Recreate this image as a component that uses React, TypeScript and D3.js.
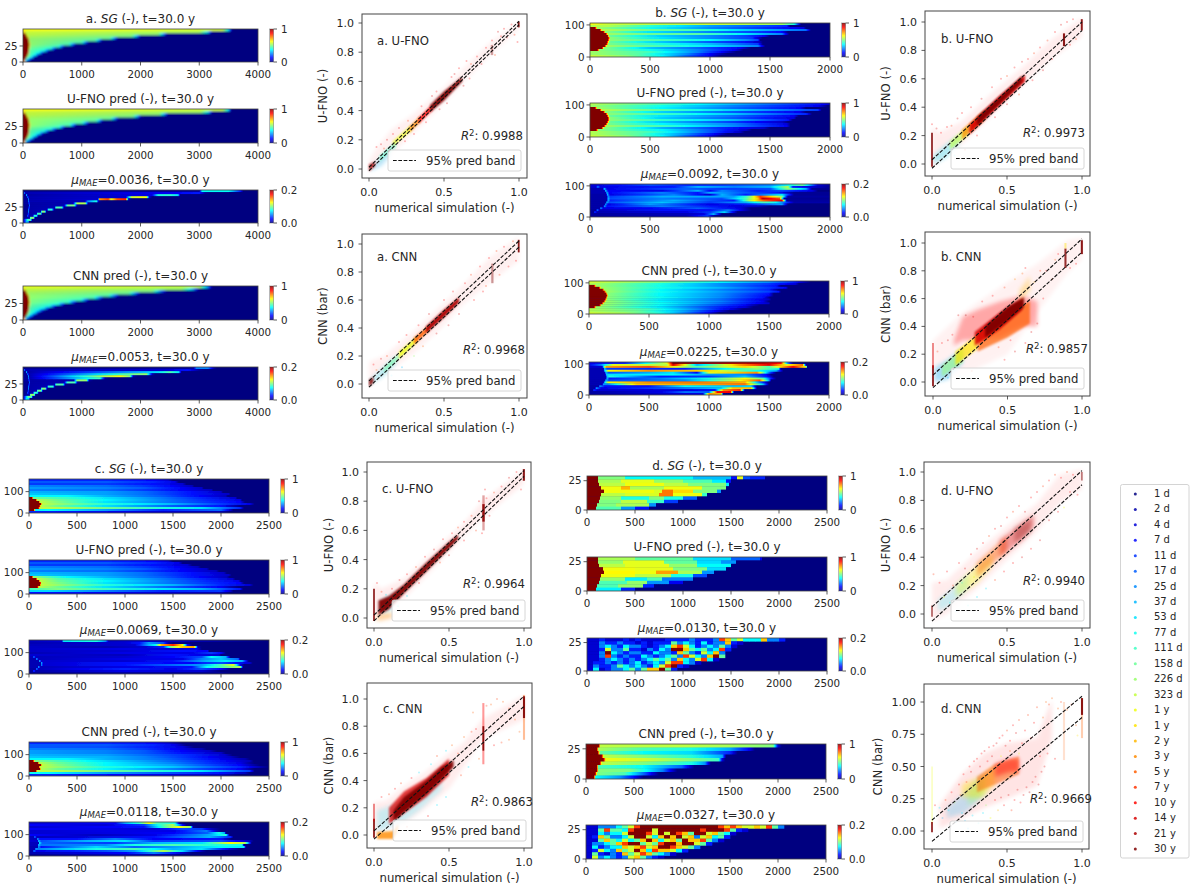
import React from 'react';
import * as d3 from 'd3';

// ---------- legend ----------
const timeLabels = ['1 d','2 d','4 d','7 d','11 d','17 d','25 d','37 d','53 d','77 d','111 d','158 d','226 d','323 d','1 y','1 y','2 y','3 y','5 y','7 y','10 y','14 y','21 y','30 y'];

// ---------- heat-map rows: flat [x, pct, x, pct, ...], top row first ----------
const aSgRows = [
  [0,62,3400,58,3500,34,3560,0],
  [0,57,15,85,30,57,3000,54,3150,34,3220,0],
  [0,100,40,100,60,57,2300,52,2400,26,2450,0],
  [0,100,60,100,80,55,1850,50,1950,26,2000,0],
  [0,100,80,100,100,53,1480,48,1560,26,1620,0],
  [0,100,90,100,110,52,1230,47,1300,26,1350,0],
  [0,100,95,100,115,52,1000,45,1060,26,1120,0],
  [0,100,100,100,120,52,780,45,850,24,900,0],
  [0,100,98,100,118,50,600,43,660,24,710,0],
  [0,100,95,100,115,48,470,41,520,22,570,0],
  [0,100,90,100,110,47,360,40,410,22,450,0],
  [0,100,85,100,105,47,280,38,320,17,360,0],
  [0,100,75,100,95,47,215,38,250,15,285,0],
  [0,100,60,100,80,47,150,39,190,13,215,0],
  [0,100,45,100,60,43,110,26,140,9,165,0],
  [0,100,25,70,50,26,75,9,105,0],
];
const aUfnoRows = [
  [0,62,3400,57,3500,34,3540,0],
  [0,57,15,85,30,57,3020,53,3160,34,3230,0],
  [0,100,40,100,60,57,2320,52,2420,26,2470,0],
  [0,100,60,100,80,55,1870,50,1960,26,2010,0],
  [0,100,80,100,100,53,1490,48,1570,26,1630,0],
  [0,100,90,100,110,52,1240,47,1310,26,1360,0],
  [0,100,95,100,115,52,1000,45,1070,26,1130,0],
  [0,100,100,100,120,52,790,45,860,24,910,0],
  [0,100,98,100,118,50,610,43,670,24,720,0],
  [0,100,95,100,115,48,470,41,530,22,580,0],
  [0,100,90,100,110,47,360,40,410,22,450,0],
  [0,100,85,100,105,47,280,38,320,17,360,0],
  [0,100,75,100,95,47,215,38,250,15,285,0],
  [0,100,60,100,80,47,150,39,190,13,215,0],
  [0,100,45,100,60,43,110,26,140,9,165,0],
  [0,100,25,70,50,26,75,9,105,0],
];
const aCnnRows = [
  [0,60,3000,56,3150,26,3220,0],
  [0,55,15,80,30,57,2700,52,2900,30,3000,0],
  [0,100,40,100,60,55,2200,50,2350,24,2450,0],
  [0,100,60,100,80,53,1800,48,1920,24,2000,0],
  [0,100,80,100,100,52,1450,46,1560,24,1640,0],
  [0,100,90,100,110,52,1200,45,1300,24,1370,0],
  [0,100,95,100,115,50,980,43,1060,24,1130,0],
  [0,100,100,100,120,50,770,43,850,22,920,0],
  [0,100,98,100,118,48,590,41,660,22,720,0],
  [0,100,95,100,115,47,460,40,520,19,580,0],
  [0,100,90,100,110,46,350,38,410,19,460,0],
  [0,100,85,100,105,46,270,36,320,16,370,0],
  [0,100,75,100,95,46,210,36,250,13,295,0],
  [0,100,60,100,80,45,145,34,190,10,225,0],
  [0,100,45,100,60,41,105,24,140,7,170,0],
  [0,100,25,68,50,24,75,7,110,0],
];
const aMaeURows = [
  [0,2,3000,3,3050,38,3500,38,3700,15,3750,0],
  [0,3,15,3,25,22,45,5,2600,12,3000,15,3100,2,3200,0],
  [0,3,50,3,60,30,80,4,2200,10,2300,40,2500,42,2640,35,2680,0],
  [0,3,70,3,80,30,100,5,1750,8,1850,58,2100,62,2150,8,2200,0],
  [0,3,80,3,90,30,110,5,1280,8,1300,72,1450,82,1500,60,1600,80,1750,85,1800,5,1850,0],
  [0,3,85,3,95,26,115,5,1050,5,1100,25,1250,40,1290,3,1350,0],
  [0,3,90,3,100,30,120,4,850,5,920,55,1060,55,1110,3,1200,0],
  [0,2,95,2,105,30,125,4,700,5,760,48,870,50,920,3,1000,0],
  [0,2,90,2,100,30,120,4,540,5,560,45,660,45,700,2,760,0],
  [0,2,85,2,95,26,115,4,410,5,430,40,490,40,530,2,570,0],
  [0,2,80,2,90,30,110,4,300,5,320,50,370,50,400,2,440,0],
  [0,2,75,2,85,26,105,4,230,5,250,45,300,45,330,0],
  [0,2,70,2,80,26,100,4,170,5,190,40,230,40,260,0],
  [0,2,110,5,130,50,180,50,205,0],
  [0,2,90,45,130,45,160,0],
  [0,2,60,30,90,30,110,0],
];
const aMaeCRows = [
  [0,2,2900,3,2950,25,3150,25,3250,4,3300,0],
  [0,3,15,3,25,22,45,5,2400,8,2800,14,3000,2,3100,0],
  [0,3,50,3,60,30,80,4,2300,35,2500,45,2650,35,2700,0],
  [0,3,70,3,80,30,100,5,1850,48,2100,52,2200,6,2250,0],
  [0,3,80,3,90,30,110,5,1400,55,1650,62,1820,50,1880,4,1950,0],
  [0,3,85,3,95,26,115,5,1100,38,1300,44,1400,3,1450,0],
  [0,3,90,3,100,30,120,4,860,5,920,52,1080,52,1130,3,1200,0],
  [0,2,95,2,105,30,125,4,700,5,760,45,880,45,930,3,1000,0],
  [0,2,90,2,100,30,120,4,540,5,560,45,680,45,720,2,760,0],
  [0,2,85,2,95,26,115,4,410,5,430,42,510,42,540,2,580,0],
  [0,2,80,2,90,30,110,4,300,5,320,50,380,50,410,2,440,0],
  [0,2,75,2,85,26,105,4,230,5,250,48,310,48,340,0],
  [0,2,70,2,80,26,100,4,170,5,190,42,240,42,270,0],
  [0,2,110,5,130,52,190,52,215,0],
  [0,2,90,48,140,48,170,0],
  [0,2,60,35,100,35,125,0],
];

const bSgRows = [
  [0,62,150,57,700,55,1000,57,1600,53,1700,40,1760,0],
  [0,55,150,55,500,42,1000,28,1500,19,1640,16,1670,0],
  [0,100,40,100,60,53,500,39,1000,26,1500,16,1700,12,1780,9,1800,0],
  [0,100,80,100,100,55,500,48,900,44,1200,35,1800,23,1840,0],
  [0,100,110,100,130,51,500,35,1000,25,1400,18,1600,13,1650,0],
  [0,100,130,100,150,53,500,48,900,46,1250,37,1600,25,1660,0],
  [0,100,145,100,160,48,600,33,1000,26,1300,19,1450,11,1500,0],
  [0,100,150,100,170,51,600,35,1000,26,1350,18,1440,0],
  [0,100,148,100,165,51,600,44,1000,37,1300,26,1400,19,1420,0],
  [0,100,140,100,160,48,600,32,1000,21,1300,14,1410,7,1440,0],
  [0,100,135,100,155,49,600,40,1000,31,1400,18,1440,0],
  [0,100,120,100,140,53,600,44,1000,35,1400,25,1460,0],
  [0,100,100,100,115,51,500,32,900,22,1250,11,1340,0],
  [0,100,60,100,80,51,500,39,900,25,1200,12,1280,0],
  [0,53,500,44,900,25,1100,12,1220,0],
  [0,53,400,46,800,26,1000,12,1150,0],
  [0,57,300,51,600,37,800,22,1000,11,1100,0],
];
const bUfnoRows = [
  [0,55,600,44,1200,30,1700,18,1950,12,2000,7],
  [0,53,600,39,1200,25,1900,11,1980,0],
  [0,100,40,100,60,53,600,37,1200,23,1750,12,1800,0],
  [0,100,80,100,100,55,600,46,1200,33,1900,18,1930,0],
  [0,100,110,100,130,51,600,33,1200,21,1750,11,1800,0],
  [0,100,130,100,150,51,600,44,1200,32,1800,16,1850,0],
  [0,100,140,100,160,48,600,35,1200,23,1700,11,1740,0],
  [0,100,148,100,165,51,600,33,1200,21,1700,9,1720,0],
  [0,100,148,100,165,51,600,42,1200,30,1650,14,1690,0],
  [0,100,140,100,160,48,600,32,1200,18,1600,7,1650,0],
  [0,100,130,100,150,49,600,37,1200,25,1640,9,1670,0],
  [0,100,115,100,135,53,600,44,1200,26,1640,11,1670,0],
  [0,100,95,100,115,51,600,30,1100,16,1450,7,1500,0],
  [0,100,50,100,70,51,600,37,1000,21,1300,7,1350,0],
  [0,55,500,44,1000,21,1250,7,1290,0],
  [0,55,400,46,800,26,1050,11,1150,0],
  [0,57,300,51,600,37,800,22,1000,11,1100,0],
];
const bCnnRows = [
  [0,58,600,49,1100,37,1500,26,1700,16,1800,5,1850,0],
  [0,55,600,40,1100,26,1500,18,1720,9,1750,0],
  [0,100,40,100,60,53,600,39,1100,26,1560,14,1600,0],
  [0,100,80,100,100,53,600,40,1100,30,1500,18,1640,12,1660,0],
  [0,100,110,100,130,53,600,37,1100,25,1500,16,1580,0],
  [0,100,125,100,145,53,600,39,1100,28,1500,19,1580,14,1600,0],
  [0,100,138,100,155,51,600,37,1100,26,1500,14,1540,0],
  [0,100,145,100,160,51,600,37,1100,26,1500,12,1540,0],
  [0,100,138,100,155,51,600,39,1100,26,1450,14,1510,0],
  [0,100,130,100,150,51,600,35,1100,23,1400,12,1500,7,1520,0],
  [0,100,120,100,140,53,600,37,1100,25,1450,11,1500,0],
  [0,100,105,100,125,53,600,39,1100,23,1400,12,1500,7,1510,0],
  [0,100,85,100,105,53,600,37,1050,21,1300,12,1420,0],
  [0,100,40,100,60,53,600,35,1000,19,1300,9,1370,0],
  [0,55,500,44,900,26,1200,9,1290,0],
  [0,55,400,48,800,28,1050,12,1170,0],
  [0,58,300,53,600,40,800,25,1000,11,1090,0],
];
const bMaeURows = [
  [0,8,500,20,800,16,1100,18,1500,25,1770,48,1830,30,1900,8,2000,3],
  [0,8,50,8,65,25,85,10,700,15,900,30,1200,25,1500,30,1650,55,1690,15,1900,6,2000,2],
  [0,5,105,5,120,32,140,10,800,22,1100,18,1500,20,1650,52,1800,30,1850,2],
  [0,5,120,5,130,32,150,12,600,10,900,30,1000,12,1100,25,1400,15,1600,20,1850,10,1900,0],
  [0,5,130,5,140,32,160,12,600,25,900,14,1000,30,1250,22,1550,15,1700,2],
  [0,4,135,4,145,32,165,10,700,25,1000,8,1100,30,1300,15,1600,35,1700,2],
  [0,4,140,4,150,28,170,18,600,30,1200,28,1300,42,1350,55,1420,82,1600,50,1650,3],
  [0,4,140,4,150,32,170,20,600,25,1100,20,1300,45,1400,68,1440,95,1580,80,1620,2],
  [0,4,140,4,150,32,170,16,700,30,1200,15,1330,55,1450,78,1600,90,1640,3],
  [0,4,130,4,140,32,160,20,600,32,1000,18,1300,30,1450,45,1550,38,1700,4],
  [0,4,120,4,130,28,150,10,500,28,1000,10,1300,15,1600,28,1650,0],
  [0,4,110,4,120,28,140,14,600,25,1000,15,1200,10,1400,6,1500,0],
  [0,4,80,4,90,28,110,10,500,12,900,22,1250,10,1340,0],
  [0,3,50,3,60,25,80,6,600,14,1000,14,1150,25,1300,5,1350,0],
  [0,3,30,3,40,18,60,5,800,10,1000,18,1120,34,1230,0],
  [0,3,800,6,950,10,1030,30,1100,0],
  [0,3,800,5,980,18,1040,2,1100,0],
];
const bMaeCRows = [
  [0,10,300,15,650,60,700,100,1450,95,1600,88,1650,30,1700,0],
  [0,10,100,25,200,60,650,55,700,92,900,30,1250,72,1500,90,1650,60,1780,78,1810,0],
  [0,8,110,8,120,32,140,72,500,80,900,45,1300,66,1500,45,1700,88,1810,62,1820,0],
  [0,5,120,5,130,32,150,18,800,15,1000,30,1400,52,1580,40,1600,0],
  [0,5,120,5,130,32,160,62,500,74,1000,66,1300,45,1560,30,1620,0],
  [0,5,130,5,140,32,165,20,700,35,900,12,1000,60,1400,74,1500,24,1560,0],
  [0,5,135,5,145,32,165,35,700,38,1000,28,1300,26,1480,12,1520,0],
  [0,5,140,5,150,32,170,40,600,15,1000,18,1300,32,1500,12,1540,0],
  [0,5,140,5,150,32,170,15,600,25,1000,40,1300,62,1450,46,1520,14,1560,0],
  [0,5,130,5,140,32,165,20,800,26,1200,55,1420,80,1500,28,1520,0],
  [0,5,120,5,130,32,160,62,500,74,900,76,1300,70,1400,32,1500,0],
  [0,5,110,5,120,28,155,25,400,68,1000,72,1300,76,1450,32,1500,0],
  [0,4,80,4,90,28,130,14,500,14,800,38,1200,32,1350,34,1400,0],
  [0,4,50,4,60,28,100,10,700,22,1100,32,1200,68,1350,68,1400,0],
  [0,3,30,3,40,18,70,8,800,10,1050,14,1120,74,1260,84,1300,0],
  [0,3,600,10,800,24,1000,22,1070,88,1180,88,1210,0],
  [0,3,700,8,950,10,1000,74,1100,68,1120,0],
];

const cSgRows = [
  [0,16,800,16,1300,12,1450,8,1500,0],
  [0,21,800,21,1300,16,1520,10,1560,0],
  [0,18,800,18,1300,14,1600,8,1640,0],
  [0,25,800,23,1200,18,1500,12,1700,6,1720,0],
  [0,28,800,25,1200,21,1600,12,1800,7,1820,0],
  [0,25,800,23,1200,18,1600,12,1900,6,1920,0],
  [0,30,800,28,1200,23,1700,14,2000,7,2020,0],
  [0,32,800,28,1200,23,1700,14,2080,7,2100,0],
  [0,37,400,37,800,30,1400,21,1800,12,2050,6,2070,0],
  [0,100,30,100,45,48,200,46,600,39,1200,28,1800,16,2150,8,2170,0],
  [0,100,70,100,85,55,300,48,800,37,1500,23,2200,10,2220,0],
  [0,100,100,100,115,56,300,50,800,35,1500,23,2200,12,2250,0],
  [0,100,120,100,135,56,300,52,800,41,1500,30,2000,18,2300,10,2350,0],
  [0,100,105,100,125,55,300,48,800,35,1500,21,2000,14,2200,0],
  [0,100,95,100,115,56,300,55,1000,46,1800,35,2200,16,2240,0],
  [0,100,50,100,65,36,200,38,800,28,1400,16,2000,23,2100,7,2130,0],
  [0,16,1000,10,2000,5,2100,0],
];
const cUfnoRows = [
  [0,16,800,16,1300,12,1450,8,1500,0],
  [0,21,800,21,1300,16,1560,10,1600,0],
  [0,18,800,18,1300,14,1650,8,1700,0],
  [0,25,800,23,1200,18,1550,12,1760,6,1790,0],
  [0,28,800,25,1200,21,1600,12,1850,7,1880,0],
  [0,25,800,23,1200,18,1600,12,1950,6,1980,0],
  [0,30,800,28,1200,23,1700,14,2030,7,2060,0],
  [0,32,800,28,1200,23,1700,14,2080,7,2110,0],
  [0,100,30,100,45,52,400,37,800,30,1400,21,1800,12,2060,6,2090,0],
  [0,100,70,100,90,56,300,46,600,39,1200,28,1800,16,2120,8,2150,0],
  [0,100,100,100,115,56,300,48,800,37,1500,23,2180,10,2210,0],
  [0,100,115,100,130,56,300,50,800,35,1500,23,2200,12,2240,0],
  [0,100,110,100,125,56,300,52,800,41,1500,30,2000,16,2300,8,2340,0],
  [0,100,85,100,105,55,300,48,800,35,1500,21,2000,12,2180,0],
  [0,44,300,50,1000,41,1800,30,2200,14,2230,0],
  [0,34,200,34,800,25,1400,16,2000,18,2100,7,2130,0],
  [0,14,1000,10,2000,5,2100,0],
];
const cCnnRows = [
  [0,16,800,16,1300,12,1450,8,1600,0],
  [0,21,800,21,1300,16,1520,10,1640,0],
  [0,21,800,20,1300,15,1600,9,1720,0],
  [0,25,800,23,1200,18,1500,12,1800,5,1850,0],
  [0,28,800,25,1200,21,1600,12,1880,7,1960,0],
  [0,28,800,25,1200,21,1600,14,2000,7,2050,0],
  [0,30,800,28,1200,23,1700,16,2040,8,2120,0],
  [0,32,800,30,1200,25,1700,16,2100,7,2200,0],
  [0,38,400,37,800,30,1400,23,1880,14,2250,5,2300,0],
  [0,100,40,100,60,50,600,38,1200,28,1880,16,2300,6,2340,0],
  [0,100,90,100,105,55,300,48,800,37,1500,25,2200,10,2350,0],
  [0,100,120,100,135,56,300,50,800,37,1500,28,2200,12,2400,0],
  [0,100,100,100,115,56,300,52,800,41,1500,32,2200,16,2420,4,2500,0],
  [0,100,110,100,125,55,300,48,800,37,1500,25,2200,12,2350,0],
  [0,100,70,100,85,56,300,55,1000,46,1800,35,2300,18,2350,0],
  [0,39,200,37,800,28,1400,21,2000,14,2250,6,2300,0],
  [0,16,1000,12,2000,7,2200,0],
];
const cMaeURows = [
  [0,6,340,8,360,35,700,40,800,25,830,6,1200,8,2500,0],
  [0,5,1000,8,1150,14,1250,28,1400,20,1450,4,1500,0],
  [0,6,1100,8,1250,30,1320,38,1380,70,1500,85,1600,62,1650,12,1700,0],
  [0,7,800,5,1200,8,1400,16,1480,50,1600,68,1720,72,1760,4,1800,0],
  [0,7,1000,10,1500,8,1750,10,1800,0],
  [0,7,1000,8,1600,14,1860,12,1880,0],
  [0,5,1000,10,1700,10,1900,18,2000,12,2050,0],
  [0,8,1000,6,1500,14,1800,10,1980,8,2000,0],
  [0,6,40,6,50,25,70,6,1000,8,1500,12,1800,20,1900,38,2050,30,2100,0],
  [0,5,70,5,80,28,100,6,1000,10,1600,10,1800,25,2000,32,2180,22,2200,0],
  [0,5,100,5,110,28,130,8,1000,8,1500,14,1850,30,2050,36,2220,30,2290,0],
  [0,5,120,5,130,28,150,8,1000,14,1700,12,1800,16,2000,20,2300,8,2330,0],
  [0,5,120,5,130,25,150,8,1000,14,1800,28,2000,45,2130,60,2200,10,2240,0],
  [0,5,90,5,100,28,120,6,1000,10,1700,14,1850,38,2100,50,2200,55,2230,0],
  [0,4,70,4,80,25,100,6,1000,16,1500,10,1800,20,2000,12,2100,0],
  [0,3,40,3,50,20,70,4,1000,10,1800,8,2000,0],
  [0,2,1000,4,2000,2,2100,0],
];
const cMaeCRows = [
  [0,8,900,12,1000,28,1150,42,1250,62,1330,45,1520,40,1570,4,1620,0],
  [0,12,800,8,1000,14,1200,18,1350,40,1500,55,1600,12,1640,0],
  [0,8,800,12,1200,14,1400,44,1560,62,1680,52,1710,2,1760,0],
  [0,12,800,10,1300,8,1600,20,1800,18,1900,6,2000,0],
  [0,8,800,10,1500,10,1720,20,1850,25,1950,6,2000,0],
  [0,8,1000,10,1500,12,1860,22,1980,40,2040,28,2050,0],
  [0,12,700,6,1300,10,1900,30,2050,42,2090,0],
  [0,6,50,6,60,25,80,6,1300,14,1880,30,2100,16,2130,0],
  [0,6,80,6,90,28,110,14,500,14,900,25,1300,12,2000,14,2110,0],
  [0,8,90,8,100,32,125,20,600,30,1000,35,1300,18,2000,20,2300,6,2340,0],
  [0,6,100,6,110,36,135,22,900,18,1300,30,1800,35,2100,62,2250,55,2320,0],
  [0,6,90,6,100,32,125,24,800,26,1100,40,1500,45,2000,40,2220,40,2240,0],
  [0,5,90,5,100,28,125,14,700,34,1100,22,1500,28,2000,38,2240,36,2260,0],
  [0,5,60,5,70,28,90,25,700,40,1100,45,1500,30,1800,35,2100,8,2200,0],
  [0,4,40,4,50,25,80,10,800,20,1100,28,1400,55,1600,34,1800,5,1850,0],
  [0,4,50,5,1000,12,1300,25,1500,15,1700,0],
  [0,2,1000,6,1500,4,1600,0],
];

// step rows: the value of a knot holds until the next knot
const dSgRows = [
  [0,100,110,50,400,38,1100,31,1500,14,1560,60,1620,20,1700,16,1850,0],
  [0,100,110,54,350,60,700,52,1000,45,1300,36,1450,14,1500,0],
  [0,100,125,56,400,61,800,56,1050,50,1450,36,1480,0],
  [0,100,150,61,350,70,450,54,800,61,1200,50,1450,0],
  [0,100,180,61,350,61,700,59,780,76,900,66,1100,50,1350,27,1400,0],
  [0,100,150,56,400,59,750,76,900,61,1200,43,1250,0],
  [0,100,135,52,350,40,650,50,800,40,1000,22,1150,0],
  [0,100,120,50,350,56,620,43,800,18,950,0],
  [0,100,100,50,300,54,650,27,720,0],
  [0,100,90,45,350,27,500,14,650,0],
];
const dUfnoRows = [
  [0,100,110,54,500,47,1100,34,1500,22,1800,11,1820,0],
  [0,100,110,52,380,60,800,47,1150,34,1400,27,1550,0],
  [0,100,130,56,400,60,850,52,1150,38,1500,0],
  [0,100,165,61,500,60,900,50,1250,34,1450,0],
  [0,100,180,63,500,61,720,72,950,54,1200,27,1320,0],
  [0,100,150,61,500,56,880,40,1100,20,1250,0],
  [0,100,135,52,400,36,620,45,780,25,1100,0],
  [0,100,120,45,420,52,620,27,850,11,1000,0],
  [0,100,105,45,320,52,580,16,700,0],
  [0,100,90,36,350,16,500,0],
];
const dCnnRows = [
  [0,100,130,100,150,56,1000,56,1500,54,1950,50,2000,9,2040,0],
  [0,100,110,100,130,54,600,45,1100,40,1500,29,1700,11,1760,0],
  [0,100,120,100,145,47,600,38,1100,34,1500,16,1580,0],
  [0,100,160,100,185,56,600,50,1100,41,1420,29,1460,0],
  [0,100,180,100,205,61,600,58,1100,50,1380,43,1420,9,1450,0],
  [0,100,140,100,165,56,600,50,1100,40,1240,27,1300,0],
  [0,100,110,100,130,45,600,38,1000,22,1130,0],
  [0,100,110,100,130,50,450,50,800,25,950,0],
  [0,100,95,100,115,50,400,45,620,20,760,0],
  [0,100,80,100,100,38,350,27,500,13,600,0],
];
// grid rows: one level per cell of fixed width, top row first
const levelPct = [0, 8, 15, 25, 37, 47, 58, 68, 82, 100];
const dMaeUGrid = [
  [1,1,2,1,1,1,2,1,2,1,1,1,1,2,2,2,2,3,2,2,2,3,8,7,5,6,4,4,4,7,3,3,2],
  [1,1,3,2,2,3,2,2,1,2,1,2,2,2,5,3,4,3,2,4,2,3,3,7,2,1],
  [1,1,3,4,3,2,4,3,3,2,1,2,3,4,7,8,6,4,2,3,4,3,5,3,1],
  [1,1,2,6,3,3,5,2,2,1,3,2,4,3,9,9,7,5,4,5,3,4,8,2],
  [1,1,3,9,4,3,2,3,3,2,2,4,3,3,2,7,5,3,2,6,4,7,3],
  [1,1,3,8,3,2,3,2,2,4,3,2,3,4,5,3,8,6,4,3,7,9,5],
  [1,1,2,3,4,3,2,3,2,3,4,5,4,5,3,7,4,3,6,8,4,1],
  [1,2,2,3,2,3,2,3,4,2,3,4,3,6,8,8,4,3,1],
  [1,3,2,2,3,5,4,3,4,3,2,4,6,8,9,2,1],
  [1,4,1,2,3,3,4,5,3,5,7,7,9,5,2],
];
const dMaeCGrid = [
  [1,1,3,3,3,4,5,6,8,9,9,9,9,9,9,9,9,9,9,9,9,9,8,7,8,7,6,6,7,6,8,5,3],
  [1,1,5,8,5,5,4,8,9,9,9,6,9,9,9,9,9,9,9,8,9,9,9,8,5,2,1],
  [1,1,4,3,4,4,6,9,9,9,8,6,9,6,9,8,7,5,9,9,6,7,5,4,1],
  [1,2,7,5,3,3,4,6,9,9,6,4,7,9,7,9,6,7,3,6,7,4,5,2],
  [1,1,5,7,5,4,6,4,5,7,9,7,4,6,7,5,9,7,7,8,5,3,1],
  [1,3,3,4,5,7,8,9,9,5,6,5,8,9,9,7,9,9,6,5,2],
  [1,4,2,3,4,4,7,6,7,8,6,7,9,9,8,7,6,5,3],
  [1,2,6,4,3,7,5,6,9,7,4,8,7,7,6,4,2],
  [1,5,2,1,3,2,7,5,6,8,7,5,4,3,1],
  [1,6,3,4,3,2,3,6,7,5,3,2,1],
];

// ---------- scatter: band lines [x0, y0, x1, y1] ----------
const aUfnoBand = [[0,0.012,1,1.012],[0,-0.012,1,0.988]];
const aCnnBand = [[0,0.022,1,1.022],[0,-0.022,1,0.978]];
const bUfnoBand = [[0,0.03,1,1.0],[0,-0.03,1,0.94]];
const bCnnBand = [[0,0.05,1,1.03],[0,-0.04,1,0.935]];
const cUfnoBand = [[0,0.02,1,1.01],[0,-0.02,1,0.97]];
const cCnnBand = [[0,0.03,1,1.02],[0,-0.03,1,0.945]];
const dUfnoBand = [[0,0.05,1,1.01],[0,-0.05,1,0.91]];
const dCnnBand = [[0,0.085,1,1.045],[0,-0.08,1,0.88]];

// clouds: [legend index, opacity, [[x, lowY, highY], ...]]
type Cloud = [number, number, number[][]];
const aUfnoClouds: Cloud[] = [
  [20,.06,[[0,-.01,.06],[.05,.01,.14],[.15,.1,.27],[.3,.25,.38],[.5,.45,.56],[.62,.58,.68],[.8,.77,.86],[1,.96,1.01]]],
  [7,.3,[[.01,-.01,.01],[.08,.02,.07],[.14,.09,.13]]],
  [10,.5,[[.07,.05,.09],[.18,.15,.19]]],
  [14,.7,[[.16,.16,.19],[.28,.26,.3]]],
  [17,.8,[[.27,.25,.29],[.34,.32,.36]]],
  [20,.85,[[.33,.31,.35],[.42,.4,.44]]],
  [23,.95,[[.41,.39,.44],[.5,.47,.53],[.62,.6,.63]]],
  [22,.8,[[0,-.015,.03],[.04,.02,.05]]],
  [23,.35,[[.812,.78,.85],[.828,.78,.85]]],
  [23,.9,[[.992,.97,1.01],[1.004,.97,1.01]]],
];
const aCnnClouds: Cloud[] = [
  [20,.06,[[0,-.02,.16],[.1,.06,.2],[.3,.22,.38],[.5,.42,.58],[.62,.56,.7],[.8,.72,.9],[1,.88,1.05]]],
  [8,.3,[[.01,0,.03],[.1,.06,.12],[.18,.15,.2]]],
  [11,.5,[[.1,.08,.12],[.2,.18,.22]]],
  [14,.8,[[.2,.18,.23],[.32,.3,.34]]],
  [18,.85,[[.3,.28,.33],[.4,.38,.42]]],
  [22,.95,[[.38,.36,.41],[.5,.475,.53],[.6,.58,.62]]],
  [23,.85,[[0,-.02,.03],[.03,.01,.05]]],
  [23,.4,[[.815,.72,.86],[.83,.72,.86]]],
  [23,.9,[[.992,.94,1.03],[1.004,.94,1.03]]],
];
const bUfnoClouds: Cloud[] = [
  [20,.07,[[0,-.03,.26],[.05,.02,.22],[.2,.14,.3],[.4,.34,.5],[.6,.55,.68],[.8,.74,.88],[1,.9,1.03]]],
  [8,.3,[[.01,0,.06],[.1,.05,.14],[.18,.14,.2]]],
  [13,.6,[[.12,.1,.16],[.24,.2,.27]]],
  [17,.75,[[.2,.17,.24],[.35,.31,.38]]],
  [21,.9,[[.25,.21,.28],[.45,.41,.48],[.62,.58,.63]]],
  [23,.95,[[.3,.27,.33],[.45,.42,.47],[.6,.58,.62]]],
  [23,.85,[[-.006,-.02,.22],[.006,-.02,.22]]],
  [23,.9,[[.873,.83,.92],[.887,.83,.92]]],
  [23,.9,[[.992,.94,1.02],[1.005,.94,1.02]]],
];
const bCnnClouds: Cloud[] = [
  [20,.3,[[.14,.26,.3],[.2,.3,.47],[.3,.3,.52],[.45,.32,.58],[.6,.4,.62],[.7,.4,.58]]],
  [20,.05,[[0,.0,.3],[.2,.05,.5],[.5,.2,.72],[.7,.5,.85],[.9,.78,1.02],[1,.88,1.04]]],
  [7,.35,[[.01,0,.1],[.1,.02,.16],[.2,.14,.24]]],
  [12,.5,[[.06,.04,.12],[.2,.14,.24]]],
  [15,.7,[[.15,.12,.22],[.3,.24,.34]]],
  [18,.7,[[.3,.22,.36],[.5,.32,.5],[.65,.42,.58]]],
  [21,.85,[[.28,.26,.36],[.45,.38,.5],[.6,.52,.6]]],
  [23,.95,[[.35,.32,.4],[.5,.44,.54],[.61,.54,.61]]],
  [16,.3,[[.58,.58,.66],[.65,.66,.76]]],
  [23,.9,[[-.006,-.03,.12],[.006,-.03,.12]]],
  [21,.5,[[-.006,.1,.28],[.006,.1,.28]]],
  [23,.8,[[.882,.82,.96],[.896,.82,.96]]],
  [15,.4,[[.882,.96,1.0],[.896,.96,1.0]]],
  [23,.9,[[.992,.92,1.02],[1.006,.92,1.02]]],
];
const cUfnoClouds: Cloud[] = [
  [20,.07,[[0,-.01,.24],[.05,.02,.2],[.2,.13,.27],[.4,.34,.46],[.6,.56,.65],[.72,.68,.8],[1,.92,1.02]]],
  [17,.4,[[.02,-.02,.02],[.12,.0,.04]]],
  [8,.3,[[.05,.03,.12],[.12,.06,.16]]],
  [23,.95,[[.03,.02,.12],[.1,.06,.15],[.2,.17,.23],[.35,.32,.38],[.5,.475,.52],[.56,.54,.57]]],
  [23,.85,[[-.006,-.02,.2],[.006,-.02,.2]]],
  [23,.9,[[.722,.66,.78],[.738,.66,.78]]],
  [22,.35,[[.722,.6,.84],[.738,.6,.84]]],
  [23,.9,[[.992,.94,1.02],[1.006,.94,1.02]]],
];
const cCnnClouds: Cloud[] = [
  [20,.07,[[0,-.01,.24],[.08,.05,.25],[.2,.08,.36],[.35,.2,.47],[.5,.34,.6],[.6,.5,.68],[.72,.7,.85],[1,.85,1.03]]],
  [8,.2,[[.02,.02,.18],[.2,.1,.25],[.3,.18,.3],[.45,.33,.5]]],
  [17,.8,[[.02,-.03,.02],[.13,-.03,.03],[.16,.04,.08]]],
  [21,.75,[[.1,.08,.2],[.2,.16,.32],[.35,.28,.42],[.5,.44,.56]]],
  [23,.95,[[.13,.1,.18],[.2,.17,.28],[.35,.3,.4],[.45,.41,.5],[.53,.5,.55]]],
  [23,.9,[[-.006,-.02,.12],[.006,-.02,.12]]],
  [21,.5,[[-.006,.1,.23],[.006,.1,.23]]],
  [20,.4,[[.722,.52,.97],[.736,.52,.97]]],
  [23,.9,[[.723,.62,.8],[.735,.62,.8]]],
  [18,.4,[[.993,.7,1.03],[1.007,.7,1.03]]],
  [23,.9,[[.993,.86,1.02],[1.007,.86,1.02]]],
];
const dUfnoClouds: Cloud[] = [
  [20,.07,[[0,-.05,.22],[.1,.0,.24],[.3,.18,.44],[.5,.38,.62],[.7,.58,.78],[.85,.78,.98],[1,.88,1.02]]],
  [8,.2,[[.04,.02,.1],[.12,.06,.16],[.24,.18,.28]]],
  [14,.35,[[.16,.12,.2],[.3,.22,.34],[.4,.34,.42]]],
  [18,.45,[[.3,.26,.36],[.5,.44,.55]]],
  [21,.35,[[.45,.4,.52],[.6,.52,.64],[.68,.62,.7]]],
  [23,.3,[[.55,.5,.6],[.66,.58,.67]]],
  [23,.7,[[-.005,-.02,.06],[.005,-.02,.06]]],
  [23,.5,[[.993,.94,1.0],[1.005,.94,1.0]]],
];
const dCnnClouds: Cloud[] = [
  [20,.1,[[.05,.02,.2],[.2,.1,.44],[.35,.18,.6],[.5,.25,.68],[.7,.35,.72],[.8,.72,1.02]]],
  [7,.22,[[.1,.1,.18],[.22,.14,.3],[.33,.26,.44]]],
  [12,.35,[[.24,.2,.3],[.36,.28,.44]]],
  [15,.4,[[.2,.26,.36],[.32,.26,.42],[.42,.36,.5]]],
  [18,.5,[[.3,.3,.42],[.42,.36,.52],[.58,.44,.58]]],
  [20,.45,[[.42,.42,.52],[.52,.46,.56],[.58,.46,.56]]],
  [14,.25,[[-.005,.05,.5],[.006,.05,.5]]],
  [23,.85,[[-.006,-.01,.07],[.006,-.01,.07]]],
  [18,.18,[[.873,.55,1.0],[.887,.55,1.0]]],
  [18,.3,[[.993,.72,1.03],[1.007,.72,1.03]]],
  [23,.9,[[.993,.9,1.03],[1.007,.9,1.03]]],
];

// stray points: [x, y, legend index]
const aUfnoPts = [[.05,.15,20],[.08,.17,21],[.12,.2,21],[.16,.24,20],[.2,.28,21],[.1,.14,19],[.26,.33,19],[.35,.43,20],[.42,.5,21],[.45,.53,20],[.38,.32,20],[.47,.41,21],[.52,.45,21],[.55,.63,20],[.57,.65,21],[.6,.69,20],[.65,.74,20],[.68,.72,19],[.72,.77,20],[.75,.72,21],[.78,.83,20],[.82,.88,20],[.84,.78,19],[.88,.91,20],[.9,.96,20],[.92,.9,21],[.95,.99,20],[.97,.92,19],[.99,.87,20],[.86,.94,21],[.63,.57,21],[.67,.62,20],[.3,.24,20],[.24,.19,20]];
const aCnnPts = [[.03,.14,20],[.05,.1,18],[.08,.18,21],[.12,.2,19],[.15,.06,8],[.2,.3,20],[.22,.12,7],[.25,.35,20],[.3,.2,12],[.33,.42,20],[.36,.27,18],[.4,.5,21],[.45,.36,21],[.5,.6,20],[.53,.42,21],[.56,.66,20],[.6,.5,21],[.64,.72,20],[.68,.78,19],[.7,.6,20],[.74,.84,20],[.78,.7,19],[.8,.9,20],[.85,.95,19],[.87,.78,19],[.9,.98,20],[.93,.84,20],[.96,1.02,19],[.98,.88,20],[.76,.66,20]];
const bUfnoPts = [[0,.28,20],[.03,.25,21],[.06,.22,20],[.1,.26,20],[.13,.27,19],[.17,.32,21],[.2,.36,20],[.26,.4,20],[.33,.46,21],[.4,.54,20],[.46,.6,20],[.5,.62,19],[.55,.68,20],[.6,.72,21],[.64,.74,20],[.68,.78,19],[.72,.82,20],[.77,.87,19],[.82,.93,20],[.86,.98,21],[.9,1.0,20],[.94,1.02,20],[.96,.88,19],[.92,.84,20],[.8,.74,20],[.74,.66,21],[.67,.59,20],[.58,.49,19],[.5,.42,21],[.42,.33,20],[.3,.2,20],[.22,.1,19],[.15,.06,8]];
const bCnnPts = [[.03,.22,19],[.06,.28,20],[.1,.3,21],[.13,.34,20],[.17,.48,21],[.22,.48,22],[.27,.47,21],[.33,.58,20],[.4,.62,20],[.48,.68,19],[.55,.74,17],[.6,.78,18],[.62,.82,20],[.68,.72,16],[.72,.8,19],[.76,.8,20],[.82,.88,18],[.84,.92,20],[.62,.28,20],[.55,.22,21],[.48,.16,20],[.52,.3,20],[.44,.25,19],[.66,.36,21],[.7,.42,21],[.74,.6,20],[.8,.74,19],[.26,.08,19],[.18,.04,8],[.1,.03,7],[.92,.82,20],[.96,.85,20]];
const cUfnoPts = [[.02,.24,20],[.05,.18,19],[.08,.16,8],[.12,.2,20],[.17,.26,21],[.22,.3,20],[.28,.35,19],[.34,.42,20],[.4,.47,21],[.46,.54,20],[.52,.58,20],[.56,.62,19],[.6,.66,20],[.65,.7,19],[.7,.8,21],[.75,.82,20],[.8,.86,19],[.85,.9,20],[.9,.96,21],[.95,1.0,20],[.77,.7,20],[.68,.6,19],[.6,.53,20],[.5,.43,21],[.44,.38,19],[.3,.24,20],[.22,.15,8],[.16,.08,9],[.72,.58,20],[.74,.88,20],[.98,.88,20]];
const cCnnPts = [[.05,.28,20],[.1,.3,19],[.14,.34,20],[.18,.38,19],[.25,.42,20],[.3,.46,8],[.38,.52,8],[.42,.58,19],[.48,.62,8],[.52,.66,18],[.56,.6,19],[.6,.72,18],[.65,.76,19],[.68,.78,20],[.75,.95,19],[.78,.96,18],[.82,1.0,19],[.86,.98,18],[.9,.93,19],[.94,.85,18],[.97,.76,18],[.85,.68,19],[.8,.66,20],[.7,.56,18],[.63,.5,8],[.58,.44,19],[.48,.28,8],[.42,.22,8],[.36,.14,20],[.22,.06,19],[.9,.7,18],[.66,.9,18]];
const dUfnoPts = [[.01,.28,19],[.05,.22,20],[.1,.3,20],[.14,.2,19],[.18,.36,20],[.22,.32,21],[.26,.42,20],[.3,.46,21],[.34,.5,20],[.38,.55,19],[.42,.6,20],[.46,.62,21],[.5,.68,20],[.54,.72,19],[.58,.76,20],[.62,.72,21],[.66,.82,20],[.7,.86,20],[.74,.9,19],[.78,.94,20],[.82,.98,19],[.86,.96,20],[.9,1.0,19],[.94,.98,20],[.97,.84,20],[.92,.86,21],[.84,.72,20],[.78,.66,21],[.72,.52,21],[.66,.46,20],[.6,.4,21],[.54,.36,20],[.48,.3,20],[.42,.24,19],[.36,.18,8],[.3,.12,8],[.24,.06,9],[.16,.02,7],[.08,.12,14],[.12,.08,9],[.2,.22,10],[.28,.26,14],[.88,.75,14]];
const dCnnPts = [[.02,.2,20],[.05,.18,8],[.07,.1,7],[.09,.24,19],[.11,.16,8],[.13,.3,20],[.15,.22,12],[.16,.07,7],[.18,.36,21],[.19,.28,18],[.2,.14,8],[.21,.44,20],[.22,.08,7],[.23,.38,19],[.24,.02,7],[.25,.5,20],[.26,.46,21],[.27,.12,8],[.28,.54,20],[.29,.2,10],[.3,.56,20],[.31,.06,8],[.32,.5,21],[.33,.6,20],[.34,.14,8],[.35,.62,21],[.36,.2,12],[.37,.54,20],[.38,.65,20],[.39,.1,14],[.4,.58,21],[.41,.66,20],[.42,.24,20],[.43,.68,21],[.44,.16,16],[.45,.72,20],[.46,.26,21],[.47,.74,20],[.48,.2,20],[.49,.66,21],[.5,.78,19],[.51,.28,21],[.52,.7,20],[.53,.16,19],[.54,.82,20],[.55,.24,20],[.56,.76,21],[.57,.32,21],[.58,.86,19],[.59,.22,20],[.6,.68,20],[.61,.28,21],[.62,.78,20],[.63,.34,21],[.64,.9,19],[.65,.3,22],[.66,.72,20],[.67,.38,21],[.68,.84,20],[.69,.42,21],[.7,.96,19],[.71,.36,21],[.72,.58,20],[.73,.46,21],[.74,.88,18],[.75,.5,21],[.76,1.0,18],[.77,.6,20],[.78,.98,19],[.8,1.03,18],[.82,.56,20],[.84,.95,18],[.86,1.0,19],[.9,.94,18],[.93,.98,19],[.96,.82,18],[.97,.74,15],[.58,.6,14],[.52,.62,18],[.46,.58,14]];

// ---------- helpers ----------
const jet = (t: number) => {
  const c = (v: number) => Math.round(255 * Math.max(0, Math.min(1, 1.5 - Math.abs(4 * t - v))));
  return `rgb(${c(3)},${c(2)},${c(1)})`;
};
const INK = '#262626';
const FONT = '"DejaVu Sans", sans-serif';

type HeatProps = {
  id: string; x0: number; x1: number; top: number; bottom: number;
  xMax: number; xTicks: number[]; yMax: number; yTicks: number[];
  rows?: number[][]; step?: boolean; grid?: number[][]; colW?: number;
  cbMax: string; title: React.ReactNode; blur?: string;
};

function stopsOf(row: number[], xMax: number, step: boolean) {
  const out: { o: number; c: string }[] = [];
  for (let i = 0; i < row.length; i += 2) {
    const x = row[i], v = row[i + 1];
    const hasNext = i + 2 < row.length;
    const nx = hasNext ? row[i + 2] : xMax;
    const nv = hasNext ? row[i + 3] : v;
    if (step) {
      out.push({ o: x / xMax, c: jet(v / 100) }, { o: nx / xMax, c: jet(v / 100) });
    } else {
      const n = Math.max(1, Math.ceil(Math.abs(nv - v) / 8));
      for (let k = 0; k < n; k++) {
        const f = k / n;
        out.push({ o: (x + (nx - x) * f) / xMax, c: jet((v + (nv - v) * f) / 100) });
      }
      if (!hasNext) out.push({ o: nx / xMax, c: jet(nv / 100) });
    }
  }
  return out;
}

function Heat(p: HeatProps) {
  const sx = d3.scaleLinear().domain([0, p.xMax]).range([p.x0, p.x1]);
  const sy = d3.scaleLinear().domain([0, p.yMax]).range([p.bottom, p.top]);
  const n = (p.rows || p.grid || []).length;
  const h = (p.bottom - p.top) / n;
  const cx = p.x1 + 12;
  const cbId = 'cb' + p.id;
  const w = p.x1 - p.x0, H = p.bottom - p.top;
  return (
    <g>
      <defs>
        <clipPath id={'clip' + p.id}><rect x={p.x0} y={p.top} width={w} height={H} /></clipPath>
        <linearGradient id={cbId} x1="0" y1="1" x2="0" y2="0">
          {d3.range(0, 1.0001, 0.0625).map(t => <stop key={t} offset={t} stopColor={jet(t)} />)}
        </linearGradient>
        {p.rows && p.rows.map((r, i) => (
          <linearGradient key={i} id={`${p.id}r${i}`} gradientUnits="userSpaceOnUse" x1={p.x0} x2={p.x1} y1="0" y2="0">
            {stopsOf(r, p.xMax, !!p.step).map((s, k) => <stop key={k} offset={s.o} stopColor={s.c} />)}
          </linearGradient>
        ))}
      </defs>
      <g clipPath={`url(#clip${p.id})`}>
        <g filter={`url(#${p.blur || 'soft'})`}>
          <rect x={p.x0 - 3} y={p.top - 3} width={w + 6} height={H + 6} fill={jet(0)} />
          {p.rows && p.rows.map((r, i) => (
            <rect key={i} x={p.x0 - 3} y={p.top + i * h - (i === 0 ? 3 : 0)} width={w + 6}
              height={h + 0.4 + (i === 0 || i === n - 1 ? 3 : 0)} fill={`url(#${p.id}r${i})`} />
          ))}
          {p.grid && p.grid.map((r, i) => r.map((v, k) => (
            <rect key={`${i}-${k}`} x={sx(k * (p.colW || 1))} y={p.top + i * h}
              width={sx(p.colW || 1) - sx(0) + 0.3} height={h + 0.3} fill={jet(levelPct[v] / 100)} />
          )))}
        </g>
      </g>
      <rect x={p.x0} y={p.top} width={w} height={H} fill="none" stroke="#444" strokeWidth={0.8} />
      {p.xTicks.map(t => (
        <g key={t}>
          <line x1={sx(t)} x2={sx(t)} y1={p.bottom} y2={p.bottom + 3.5} stroke="#333" strokeWidth={0.8} />
          <text x={sx(t)} y={p.bottom + 16} textAnchor="middle" fontSize={10.3} fill={INK}>{t}</text>
        </g>
      ))}
      {p.yTicks.map(t => (
        <g key={t}>
          <line x1={p.x0 - 3.5} x2={p.x0} y1={sy(t)} y2={sy(t)} stroke="#333" strokeWidth={0.8} />
          <text x={p.x0 - 5.5} y={sy(t) + 3.8} textAnchor="end" fontSize={10.3} fill={INK}>{t}</text>
        </g>
      ))}
      <text x={(p.x0 + p.x1) / 2} y={p.top - 6.5} textAnchor="middle" fontSize={12} fill={INK}>{p.title}</text>
      <rect x={cx} y={p.top} width={3.5} height={H} fill={`url(#${cbId})`} opacity={0.85} />
      <rect x={cx - 0.5} y={p.top} width={4} height={H} fill="none" stroke="#333" strokeWidth={0.5} opacity={0.7} />
      {[[p.top, p.cbMax], [p.bottom, p.cbMax === '1' ? '0' : '0.0']].map(([y, l]) => (
        <g key={String(l)}>
          <line x1={cx + 3.5} x2={cx + 7} y1={y as number} y2={y as number} stroke="#333" strokeWidth={0.8} />
          <text x={cx + 11} y={(y as number) + 3.8} fontSize={10.3} fill={INK}>{l}</text>
        </g>
      ))}
    </g>
  );
}

type ScatterProps = {
  left: number; right: number; top: number; bottom: number;
  px0: number; px1: number; py0: number; py1: number;
  yTicks: number[]; yFmt: string; yLabel: string; yLabelX: number;
  tag: string; tagX: number; tagY: number;
  r2: string; r2X: number; r2Y: number;
  band: number[][]; clouds: Cloud[]; pts: number[][];
  id: string;
};

function Scatter(p: ScatterProps) {
  const sx = d3.scaleLinear().domain([0, 1]).range([p.px0, p.px1]);
  const sy = d3.scaleLinear().domain([0, 1]).range([p.py0, p.py1]);
  const area = d3.area<number[]>().x(d => sx(d[0])).y0(d => sy(d[1])).y1(d => sy(d[2]));
  const fmt = d3.format(p.yFmt);
  const lb = { x: p.right - 139, w: 133, y: p.bottom - 28, h: 21 };
  const isStreak = (c: Cloud) => c[2].length === 2 && Math.abs(c[2][1][0] - c[2][0][0]) < 0.03;
  return (
    <g>
      <defs>
        <clipPath id={'sc' + p.id}><rect x={p.left} y={p.top} width={p.right - p.left} height={p.bottom - p.top} /></clipPath>
      </defs>
      <g clipPath={`url(#sc${p.id})`}>
        {p.clouds.map((c, i) => (
          <path key={i} d={area(c[2]) || ''} fill={jet(c[0] / 23)} opacity={c[1]}
            filter={isStreak(c) ? 'url(#soft)' : c[1] < 0.5 ? 'url(#cloud)' : 'url(#core)'} />
        ))}
        <g filter="url(#soft)">
          {p.pts.map((q, i) => (
            <circle key={i} cx={sx(q[0])} cy={sy(q[1])} r={1} fill={jet(q[2] / 23)} opacity={0.28} />
          ))}
        </g>
        {p.band.map((b, i) => (
          <line key={i} x1={sx(b[0])} y1={sy(b[1])} x2={sx(b[2])} y2={sy(b[3])} stroke="#111" strokeWidth={1.1} strokeDasharray="3.7 1.6" />
        ))}
      </g>
      <rect x={p.left} y={p.top} width={p.right - p.left} height={p.bottom - p.top} fill="none" stroke="#444" strokeWidth={1} />
      {[0, 0.5, 1].map(t => (
        <g key={t}>
          <line x1={sx(t)} x2={sx(t)} y1={p.bottom} y2={p.bottom + 3.5} stroke="#333" strokeWidth={0.8} />
          <text x={sx(t)} y={p.bottom + 18} textAnchor="middle" fontSize={11} fill={INK}>{t.toFixed(1)}</text>
        </g>
      ))}
      {p.yTicks.map(t => (
        <g key={t}>
          <line x1={p.left - 3.5} x2={p.left} y1={sy(t)} y2={sy(t)} stroke="#333" strokeWidth={0.8} />
          <text x={p.left - 8} y={sy(t) + 4} textAnchor="end" fontSize={11} fill={INK}>{fmt(t)}</text>
        </g>
      ))}
      <text x={(p.left + p.right) / 2} y={p.bottom + 34} textAnchor="middle" fontSize={11.7} fill={INK}>numerical simulation (-)</text>
      <text transform={`translate(${p.yLabelX},${(p.top + p.bottom) / 2}) rotate(-90)`} y={4} textAnchor="middle" fontSize={11.7} fill={INK}>{p.yLabel}</text>
      <text x={p.tagX} y={p.tagY} fontSize={11.7} fill={INK}>{p.tag}</text>
      <text x={p.r2X} y={p.r2Y} textAnchor="end" fontSize={11.7} fill={INK}>
        <tspan fontStyle="italic">R</tspan><tspan fontSize={8.5} dy={-4}>2</tspan><tspan dy={4}>: {p.r2}</tspan>
      </text>
      <rect x={lb.x} y={lb.y} width={lb.w} height={lb.h} rx={2} fill="#fff" fillOpacity={0.8} stroke="#ccc" strokeWidth={0.8} />
      <line x1={lb.x + 5} x2={lb.x + 28} y1={lb.y + 10.5} y2={lb.y + 10.5} stroke="#111" strokeWidth={1.1} strokeDasharray="3.7 1.6" />
      <text x={lb.x + 38} y={lb.y + 15} fontSize={11.7} fill={INK}>95% pred band</text>
    </g>
  );
}

const sgTitle = (g: string) => <>{g}. <tspan fontStyle="italic">SG</tspan> (-), t=30.0 y</>;
const maeTitle = (v: string) => (
  <><tspan fontStyle="italic">μ</tspan><tspan fontStyle="italic" fontSize={8.5} dy={2.5}>MAE</tspan><tspan dy={-2.5}>={v}, t=30.0 y</tspan></>
);
const predTitle = (m: string) => `${m} pred (-), t=30.0 y`;

const ticksA = [0, 1000, 2000, 3000, 4000];
const ticksB = [0, 500, 1000, 1500, 2000];
const ticksC = [0, 500, 1000, 1500, 2000, 2500];
const ticks10 = [0, .2, .4, .6, .8, 1];

export default function App() {
  const A = { xMax: 4000, xTicks: ticksA, yMax: 51.5, yTicks: [0, 25], x0: 23, x1: 258, blur: 'smooth' };
  const B = { xMax: 2000, xTicks: ticksB, yMax: 106, yTicks: [0, 100] };
  const C = { xMax: 2500, xTicks: ticksC, yMax: 159, yTicks: [0, 100], x0: 29, x1: 269 };
  const D = { xMax: 2500, xTicks: ticksC, yMax: 29, yTicks: [0, 25] };
  return (
    <svg width={1196} height={893} viewBox="0 0 1196 893" fontFamily={FONT}
      style={{ position: 'absolute', left: 0, top: 0, background: '#fff' }}>
      <defs>
        <filter id="soft" x="-5%" y="-5%" width="110%" height="110%">
          <feGaussianBlur stdDeviation="0.55" />
        </filter>
        <filter id="smooth" x="-5%" y="-5%" width="110%" height="110%">
          <feGaussianBlur stdDeviation="0.8" />
        </filter>
        <filter id="core" x="-20%" y="-20%" width="140%" height="140%">
          <feGaussianBlur stdDeviation="0.9" />
        </filter>
        <filter id="cloud" x="-30%" y="-30%" width="160%" height="160%">
          <feGaussianBlur stdDeviation="2" />
        </filter>
      </defs>

      <Heat id="a1" {...A} top={29} bottom={62} rows={aSgRows} cbMax="1" title={sgTitle('a')} />
      <Heat id="a2" {...A} top={109} bottom={143} rows={aUfnoRows} cbMax="1" title={predTitle('U-FNO')} />
      <Heat id="a3" {...A} blur="soft" top={190} bottom={223} rows={aMaeURows} cbMax="0.2" title={maeTitle('0.0036')} />
      <Heat id="a4" {...A} top={286} bottom={320} rows={aCnnRows} cbMax="1" title={predTitle('CNN')} />
      <Heat id="a5" {...A} blur="soft" top={367} bottom={400} rows={aMaeCRows} cbMax="0.2" title={maeTitle('0.0053')} />

      <Heat id="b1" {...B} x0={590} x1={830} top={23} bottom={57} rows={bSgRows} cbMax="1" title={sgTitle('b')} />
      <Heat id="b2" {...B} x0={590} x1={830} top={103} bottom={137} rows={bUfnoRows} cbMax="1" title={predTitle('U-FNO')} />
      <Heat id="b3" {...B} x0={590} x1={830} top={184} bottom={217} rows={bMaeURows} cbMax="0.2" title={maeTitle('0.0092')} />
      <Heat id="b4" {...B} x0={589} x1={829} top={281} bottom={314} rows={bCnnRows} cbMax="1" title={predTitle('CNN')} />
      <Heat id="b5" {...B} x0={589} x1={829} top={362} bottom={395} rows={bMaeCRows} cbMax="0.2" title={maeTitle('0.0225')} />

      <Heat id="c1" {...C} top={479} bottom={513} rows={cSgRows} cbMax="1" title={sgTitle('c')} />
      <Heat id="c2" {...C} top={560} bottom={594} rows={cUfnoRows} cbMax="1" title={predTitle('U-FNO')} />
      <Heat id="c3" {...C} top={640} bottom={674} rows={cMaeURows} cbMax="0.2" title={maeTitle('0.0069')} />
      <Heat id="c4" {...C} top={742} bottom={776} rows={cCnnRows} cbMax="1" title={predTitle('CNN')} />
      <Heat id="c5" {...C} top={822} bottom={856} rows={cMaeCRows} cbMax="0.2" title={maeTitle('0.0118')} />

      <Heat id="d1" {...D} x0={587} x1={827} top={476} bottom={510} rows={dSgRows} step cbMax="1" title={sgTitle('d')} />
      <Heat id="d2" {...D} x0={587} x1={827} top={557} bottom={591} rows={dUfnoRows} step cbMax="1" title={predTitle('U-FNO')} />
      <Heat id="d3" {...D} x0={587} x1={827} top={638} bottom={671} grid={dMaeUGrid} colW={62.5} cbMax="0.2" title={maeTitle('0.0130')} />
      <Heat id="d4" {...D} x0={586} x1={826} top={744} bottom={779} rows={dCnnRows} cbMax="1" title={predTitle('CNN')} />
      <Heat id="d5" {...D} x0={586} x1={826} top={825} bottom={859} grid={dMaeCGrid} colW={62.5} cbMax="0.2" title={maeTitle('0.0327')} />

      <Scatter id="sa1" left={362} right={527} top={14} bottom={178} px0={369} px1={519} py0={169} py1={23}
        yTicks={ticks10} yFmt=".1f" yLabel="U-FNO (-)" yLabelX={323} tag="a. U-FNO" tagX={377} tagY={45}
        r2="0.9988" r2X={523} r2Y={140} band={aUfnoBand} clouds={aUfnoClouds} pts={aUfnoPts} />
      <Scatter id="sa2" left={362} right={527} top={234} bottom={398} px0={369} px1={519} py0={384} py1={244}
        yTicks={ticks10} yFmt=".1f" yLabel="CNN (bar)" yLabelX={323} tag="a. CNN" tagX={377} tagY={261}
        r2="0.9968" r2X={525} r2Y={354} band={aCnnBand} clouds={aCnnClouds} pts={aCnnPts} />
      <Scatter id="sb1" left={925} right={1090} top={11} bottom={176} px0={932} px1={1082} py0={164} py1={22}
        yTicks={ticks10} yFmt=".1f" yLabel="U-FNO (-)" yLabelX={886} tag="b. U-FNO" tagX={941} tagY={43}
        r2="0.9973" r2X={1085} r2Y={137} band={bUfnoBand} clouds={bUfnoClouds} pts={bUfnoPts} />
      <Scatter id="sb2" left={925} right={1090} top={232} bottom={396} px0={933} px1={1082} py0={382} py1={243}
        yTicks={ticks10} yFmt=".1f" yLabel="CNN (bar)" yLabelX={886} tag="b. CNN" tagX={941} tagY={261}
        r2="0.9857" r2X={1088} r2Y={353} band={bCnnBand} clouds={bCnnClouds} pts={bCnnPts} />
      <Scatter id="sc1" left={367} right={531} top={462} bottom={628} px0={374} px1={524} py0={618} py1={472}
        yTicks={ticks10} yFmt=".1f" yLabel="U-FNO (-)" yLabelX={329} tag="c. U-FNO" tagX={382} tagY={493}
        r2="0.9964" r2X={525} r2Y={588} band={cUfnoBand} clouds={cUfnoClouds} pts={cUfnoPts} />
      <Scatter id="sc2" left={367} right={532} top={683} bottom={848} px0={374} px1={524} py0={835} py1={699}
        yTicks={ticks10} yFmt=".1f" yLabel="CNN (bar)" yLabelX={329} tag="c. CNN" tagX={383} tagY={713}
        r2="0.9863" r2X={533} r2Y={806} band={cCnnBand} clouds={cCnnClouds} pts={cCnnPts} />
      <Scatter id="sd1" left={924} right={1090} top={462} bottom={628} px0={932} px1={1082} py0={614} py1={472}
        yTicks={ticks10} yFmt=".1f" yLabel="U-FNO (-)" yLabelX={886} tag="d. U-FNO" tagX={941} tagY={495}
        r2="0.9940" r2X={1085} r2Y={585} band={dUfnoBand} clouds={dUfnoClouds} pts={dUfnoPts} />
      <Scatter id="sd2" left={924} right={1089} top={684} bottom={849} px0={932} px1={1082} py0={831} py1={702}
        yTicks={[0, .25, .5, .75, 1]} yFmt=".2f" yLabel="CNN (bar)" yLabelX={878} tag="d. CNN" tagX={941} tagY={713}
        r2="0.9669" r2X={1092} r2Y={803} band={dCnnBand} clouds={dCnnClouds} pts={dCnnPts} />

      <rect x={1120.5} y={484.5} width={68.5} height={373.5} rx={2} fill="#fff" stroke="#d4d4d4" strokeWidth={1} />
      {timeLabels.map((l, i) => {
        const y = d3.scaleLinear().domain([0, timeLabels.length - 1]).range([493, 848])(i);
        return (
          <g key={i}>
            <circle cx={1135.3} cy={y + 1} r={1.5} fill={jet(i / 23)} opacity={0.85} />
            <text x={1154} y={y + 4} fontSize={10} fill={INK}>{l}</text>
          </g>
        );
      })}
    </svg>
  );
}
